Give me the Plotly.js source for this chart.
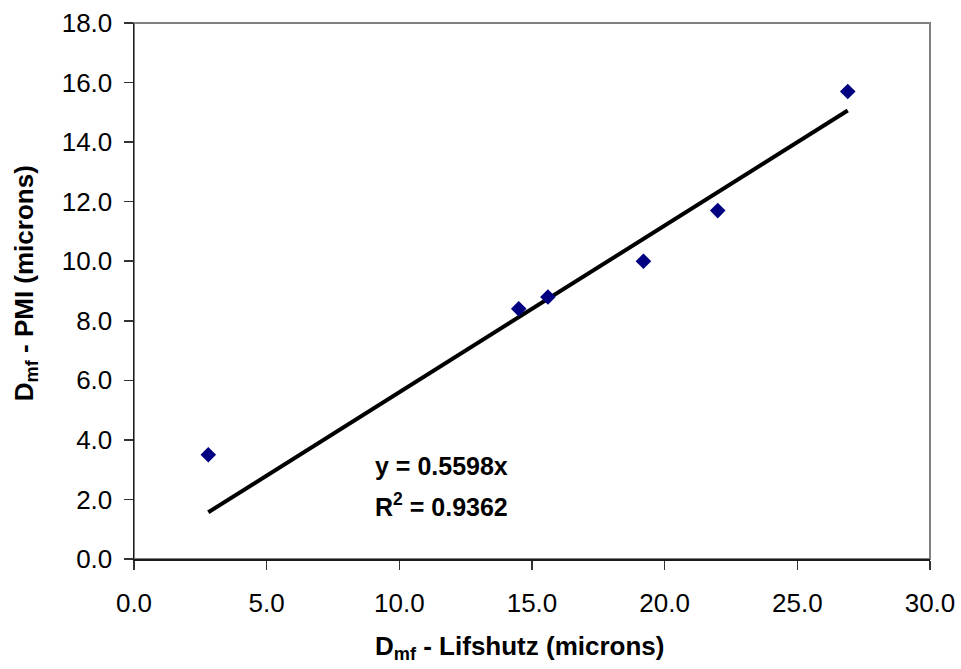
<!DOCTYPE html>
<html>
<head>
<meta charset="utf-8">
<script src="https://cdn.plot.ly/plotly-3.0.1.min.js"></script>
<style>html,body{margin:0;padding:0;background:#fff;}#chart{width:961px;height:669px;}</style>
</head>
<body>
<div id="chart"></div>
<script>
// Measured data (Lifshutz vs PMI, microns)
const lifshutz = [2.8, 14.5, 15.6, 19.2, 22.0, 26.9];
const pmi = [3.5, 8.4, 8.8, 10.0, 11.7, 15.7];
// Linear trendline through origin (y = 0.5598x), drawn over the data range
const trendX = [2.8, 26.9];
const trendY = [1.57, 15.06];
const xTicks = [0, 5, 10, 15, 20, 25, 30];
const xTickText = ["0.0", "5.0", "10.0", "15.0", "20.0", "25.0", "30.0"];
const yTicks = [0, 2, 4, 6, 8, 10, 12, 14, 16, 18];
const yTickText = ["0.0", "2.0", "4.0", "6.0", "8.0", "10.0", "12.0", "14.0", "16.0", "18.0"];
const xTitle = "D<sub>mf</sub> - Lifshutz (microns)";
const yTitle = "D<sub>mf</sub> - PMI (microns)";
const eqText = "y = 0.5598x";
const r2Text = "R<sup>2</sup> = 0.9362";

const font = "Liberation Sans, Arial, sans-serif";

const traces = [
  {
    x: trendX, y: trendY, type: "scatter", mode: "lines",
    line: {color: "#000000", width: 4}, hoverinfo: "skip", showlegend: false
  },
  {
    x: lifshutz, y: pmi, type: "scatter", mode: "markers",
    marker: {symbol: "diamond", size: 12, color: "#000080", line: {width: 0}},
    showlegend: false
  }
];

const axisCommon = {
  showgrid: false, zeroline: false,
  showline: true, linecolor: "#1a1a1a", linewidth: 1.5,
  ticks: "outside", ticklen: 9, tickcolor: "#333333", tickwidth: 1.5,
  tickfont: {family: font, size: 26, color: "#000000"}
};

const layout = {
  width: 961, height: 669,
  margin: {l: 133.5, r: 31.3, t: 23.3, b: 109.7},
  paper_bgcolor: "#ffffff", plot_bgcolor: "#ffffff",
  font: {family: font, size: 26, color: "#000000"},
  showlegend: false,
  xaxis: Object.assign({range: [0, 30], tickvals: xTicks, ticktext: xTickText, ticklabelstandoff: 11}, axisCommon),
  yaxis: Object.assign({range: [0, 18], tickvals: yTicks, ticktext: yTickText, ticklabelstandoff: 6}, axisCommon),
  shapes: [
    {type: "rect", xref: "paper", yref: "paper", x0: 0, x1: 1, y0: 0, y1: 1,
     line: {color: "#808080", width: 2}, layer: "below"}
  ],
  annotations: [
    {x: 0.484, y: 648, xref: "paper", yref: "paper", text: "<b>" + xTitle + "</b>", showarrow: false,
     xanchor: "center", yanchor: "middle", font: {family: font, size: 26, color: "#000000"}},
    {x: 25, y: 284, xref: "paper", yref: "paper", text: "<b>" + yTitle + "</b>", showarrow: false,
     textangle: -90, xanchor: "center", yanchor: "middle", font: {family: font, size: 26, color: "#000000"}},
    {x: 9.0, y: 3.13, xref: "x", yref: "y", text: "<b>" + eqText + "</b>", showarrow: false,
     xanchor: "left", yanchor: "middle", font: {family: font, size: 25, color: "#000000"}},
    {x: 9.0, y: 1.82, xref: "x", yref: "y", text: "<b>" + r2Text + "</b>", showarrow: false,
     xanchor: "left", yanchor: "middle", font: {family: font, size: 25, color: "#000000"}}
  ]
};

// convert pixel positions for axis-title annotations to paper coords
const pw = 961 - layout.margin.l - layout.margin.r;
const ph = 669 - layout.margin.t - layout.margin.b;
layout.annotations[0].y = (669 - layout.margin.b - 648) / ph;
layout.annotations[1].x = (25 - layout.margin.l) / pw;
layout.annotations[1].y = (669 - layout.margin.b - 284) / ph;

Plotly.newPlot("chart", traces, layout, {displayModeBar: false, staticPlot: true});
</script>
</body>
</html>
